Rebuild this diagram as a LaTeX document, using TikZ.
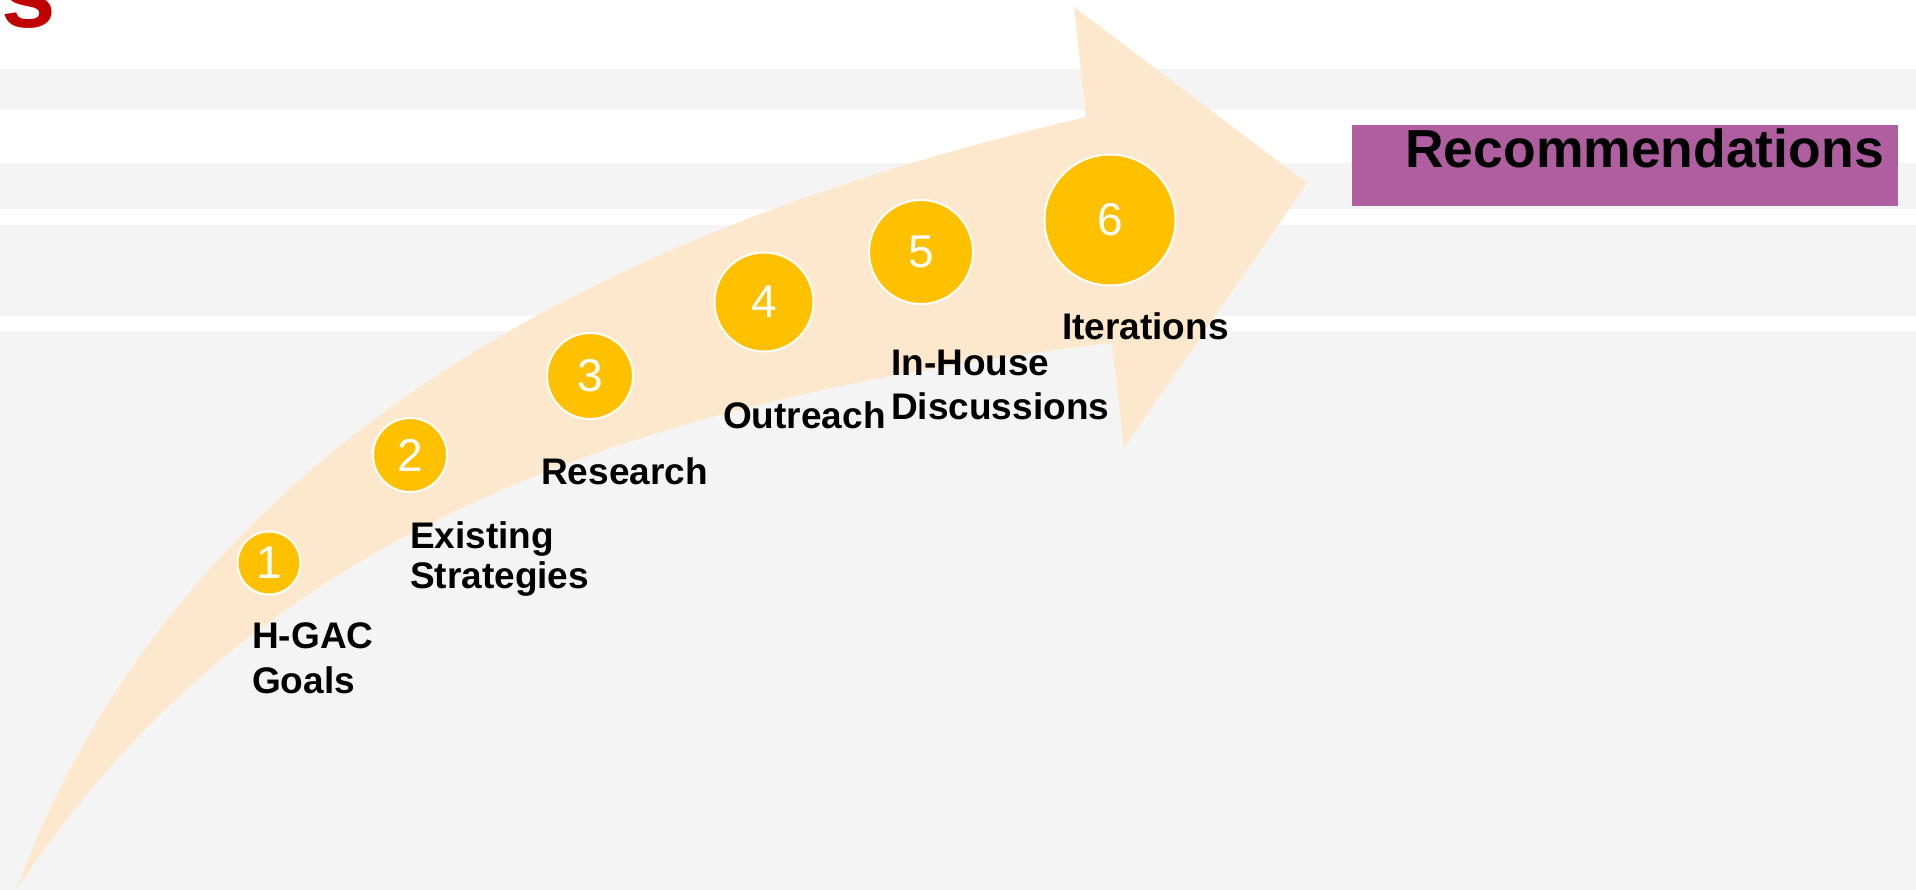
\documentclass[tikz,border=0pt]{standalone}
\usepackage{fontspec}
\setmainfont{Liberation Sans}
\definecolor{bandgrey}{HTML}{F4F4F4}
\definecolor{peach}{RGB}{254,232,205}
\definecolor{gold}{HTML}{FFC000}
\definecolor{mauve}{HTML}{AF5EA0}
\definecolor{titlered}{HTML}{C00000}
\begin{document}
\begin{tikzpicture}[x=1pt,y=-1pt,
  band/.style={fill=bandgrey},
  circ/.style={circle, fill=gold, draw=white, line width=2pt, inner sep=0pt,
    text=white, font=\fontsize{46}{46}\selectfont},
  lbl/.style={inner sep=0pt, font=\bfseries\fontsize{37}{45}\selectfont, align=left, text=black}]
\useasboundingbox (0,0) rectangle (1916,890);
\fill[white] (0,0) rectangle (1916,890);
% background bands
\fill[band] (0,69) rectangle (1916,110);
\fill[band] (0,163) rectangle (1916,209);
\fill[band] (0,225) rectangle (1916,316);
\fill[band] (0,331) rectangle (1916,890);
% title fragment
\node[anchor=base east, inner sep=0pt, text=titlered,
  font=\bfseries\fontsize{98}{98}\selectfont] (title) at (56,28) {es};
% curved arrow
\fill[peach] (16,890) .. controls (191,420) and (648,219) .. (1086,117)
  -- (1074,7) -- (1307,183) -- (1124,448) -- (1112,343)
  .. controls (616,401) and (247,539) .. (16,890) -- cycle;
% circles
\node[circ, minimum size=63pt] (c1) at (269,563) {1};
\node[circ, minimum size=74pt] (c2) at (410,455) {2};
\node[circ, minimum size=86pt] (c3) at (590,376) {3};
\node[circ, minimum size=99pt] (c4) at (764,302) {4};
\node[circ, minimum size=104pt] (c5) at (921,252) {5};
\node[circ, minimum size=131pt] (c6) at (1110,220) {6};
% labels
\node[lbl, anchor=north west] (l1) at (252,622) {H-GAC\\Goals};
\node[lbl, anchor=north west, font=\bfseries\fontsize{37}{40}\selectfont] (l2) at (410,521) {Existing\\Strategies};
\node[lbl, anchor=base west] (l3) at (541,484) {Research};
\node[lbl, anchor=base west] (l4) at (723,428) {Outreach};
\node[lbl, anchor=north west, font=\bfseries\fontsize{37}{44}\selectfont] (l5) at (891,350) {In-House\\Discussions};
\node[lbl, anchor=base west] (l6) at (1062,340) {Iterations};
% recommendations box
\node[fill=mauve, anchor=north west, inner sep=0pt, minimum width=546pt, minimum height=81pt] (recbox) at (1352,125) {};
\node[anchor=base east, inner sep=0pt, font=\bfseries\fontsize{53.5}{53.5}\selectfont] (rectext) at (1884,168) {Recommendations};
\end{tikzpicture}
\end{document}
